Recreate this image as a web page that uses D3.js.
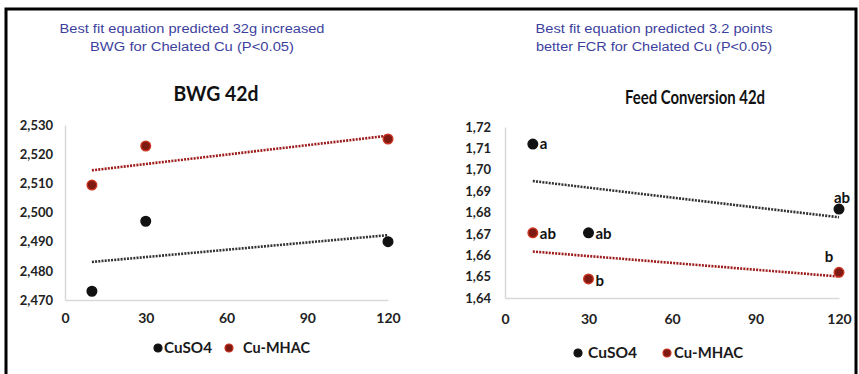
<!DOCTYPE html>
<html>
<head>
<meta charset="utf-8">
<script src="https://cdn.jsdelivr.net/npm/d3@7/dist/d3.min.js"></script>
<style>
  html, body { margin: 0; padding: 0; background: #fff; }
  svg { display: block; }
</style>
</head>
<body>
<svg id="chart" width="859" height="374"></svg>
<script>
// ---------- data ----------
const doses = [10, 30, 120];
const xTicks = [0, 30, 60, 90, 120];

const bwgCuSO4 = [2473, 2497, 2490];
const bwgMHAC = [2509.4, 2522.8, 2525.2];
const bwgTicks = [2470, 2480, 2490, 2500, 2510, 2520, 2530];

const fcrCuSO4 = [1.712, 1.6705, 1.6816];
const fcrMHAC = [1.6705, 1.6489, 1.652];
const fcrTicks = [1.64, 1.65, 1.66, 1.67, 1.68, 1.69, 1.70, 1.71, 1.72];
const fcrCuSO4Letters = ["a", "ab", "ab"];
const fcrMHACLetters = ["ab", "b", "b"];

const seriesNames = ["CuSO4", "Cu-MHAC"];
const titles = ["BWG 42d", "Feed Conversion 42d"];
const notesBWG = ["Best fit equation predicted 32g increased", "BWG for Chelated Cu (P<0.05)"];
const notesFCR = ["Best fit equation predicted 3.2 points", "better FCR for Chelated Cu (P<0.05)"];

// ---------- styles ----------
const colBlack = "#111111";
const colRedFill = "#7e1a12";
const colRedStroke = "#cc3420";
const colTrendRed = "#9e1c1c";
const colNote = "#3d3f9e";
const axisGray = "#d9d9d9";
const fontMain = "Lato, 'Open Sans', 'Liberation Sans', sans-serif";
const fontNote = "'Liberation Sans', Arial, sans-serif";

const svg = d3.select("#chart");
svg.append("rect").attr("width", 859).attr("height", 374).attr("fill", "#fff");

// frame
svg.append("path")
  .attr("d", d3.line()([[6, 374], [6, 9], [856, 9], [856, 374]]))
  .attr("fill", "none").attr("stroke", "#000").attr("stroke-width", 3);

function regression(xs, ys) {
  const mx = d3.mean(xs), my = d3.mean(ys);
  let sxy = 0, sxx = 0;
  xs.forEach((x, i) => { sxy += (x - mx) * (ys[i] - my); sxx += (x - mx) * (x - mx); });
  const b = sxy / sxx;
  return x => my + b * (x - mx);
}

function panel(cfg) {
  const g = svg.append("g");
  const x = d3.scaleLinear().domain([0, 120]).range(cfg.xRange);
  const y = d3.scaleLinear().domain(cfg.yDomain).range(cfg.yRange);

  // notes
  cfg.notes.forEach((t, i) => {
    g.append("text").attr("x", cfg.noteX).attr("y", 33 + i * 18)
      .attr("text-anchor", "middle").attr("font-family", fontNote)
      .attr("font-size", 12.5).attr("fill", colNote)
      .attr("textLength", cfg.noteLen[i]).attr("lengthAdjust", "spacingAndGlyphs")
      .text(t);
  });

  // title
  g.append("text").attr("x", cfg.titleX).attr("y", cfg.titleY)
    .attr("text-anchor", "middle").attr("font-family", fontMain)
    .attr("font-weight", "bold").attr("font-size", cfg.titleSize).attr("fill", "#111")
    .attr("textLength", cfg.titleLen).attr("lengthAdjust", "spacingAndGlyphs")
    .text(cfg.title);

  // axes
  const yAxis = d3.axisLeft(y).tickValues(cfg.yTicks).tickSize(0).tickPadding(cfg.yPad)
    .tickFormat(cfg.yFormat);
  const ya = g.append("g").attr("transform", `translate(${cfg.xRange[0]},0)`).call(yAxis);
  ya.select(".domain").attr("stroke", axisGray).attr("stroke-width", 1.5);
  ya.selectAll("text").attr("font-family", fontMain).attr("font-weight", "bold")
    .attr("font-size", 13).attr("fill", "#222");

  const xAxis = d3.axisBottom(x).tickValues(xTicks).tickSize(0).tickPadding(cfg.xPad);
  const xa = g.append("g").attr("transform", `translate(0,${cfg.yRange[0]})`).call(xAxis);
  xa.select(".domain").attr("stroke", axisGray).attr("stroke-width", 1.5);
  xa.selectAll("text").attr("font-family", fontMain).attr("font-weight", "bold")
    .attr("font-size", 14).attr("fill", "#222");

  // trend lines
  const series = [
    { vals: cfg.s1, fill: colBlack, stroke: colBlack, trend: "#333" },
    { vals: cfg.s2, fill: colRedFill, stroke: colRedStroke, trend: colTrendRed }
  ];
  series.forEach(s => {
    const f = regression(doses, s.vals);
    const x0 = d3.min(doses), x1 = d3.max(doses);
    g.append("path")
      .attr("d", d3.line().x(d => x(d)).y(d => y(f(d)))([x0, x1]))
      .attr("fill", "none").attr("stroke", s.trend).attr("stroke-width", 2.6)
      .attr("stroke-dasharray", "2,1.2");
  });

  // points
  series.forEach(s => {
    g.selectAll(null).data(doses).enter().append("circle")
      .attr("cx", d => x(d)).attr("cy", (d, i) => y(s.vals[i]))
      .attr("r", 4.8).attr("fill", s.fill).attr("stroke", s.stroke).attr("stroke-width", 1.4);
  });

  // letters
  if (cfg.letters) {
    cfg.letters.forEach(L => {
      L.labels.forEach((t, i) => {
        const p = L.place[i];
        g.append("text")
          .attr("x", x(doses[i]) + p[0]).attr("y", y(L.vals[i]) + p[1])
          .attr("text-anchor", p[2]).attr("font-family", fontMain)
          .attr("font-weight", "bold").attr("font-size", 15).attr("fill", "#111")
          .text(t);
      });
    });
  }

  // legend
  const lg = g.append("g");
  cfg.legend.forEach((l, i) => {
    lg.append("circle").attr("cx", l.cx).attr("cy", cfg.legendY).attr("r", 4)
      .attr("fill", i === 0 ? colBlack : colRedFill)
      .attr("stroke", i === 0 ? colBlack : colRedStroke).attr("stroke-width", 1.2);
    lg.append("text").attr("x", l.tx).attr("y", cfg.legendY + 5)
      .attr("font-family", fontMain).attr("font-weight", "bold").attr("font-size", 14.5)
      .attr("fill", "#1a1a1a")
      .attr("textLength", l.len).attr("lengthAdjust", "spacingAndGlyphs")
      .text(seriesNames[i]);
  });
}

const commaThousands = d => d3.format(",")(d);
const commaDecimal = d => d3.format(".2f")(d).replace(".", ",");

panel({
  xRange: [65, 388], yDomain: [2470, 2530], yRange: [300, 125],
  yTicks: bwgTicks, yFormat: commaThousands, yPad: 12, xPad: 13,
  s1: bwgCuSO4, s2: bwgMHAC,
  title: titles[0], titleX: 216, titleY: 101, titleSize: 20, titleLen: 85,
  notes: notesBWG, noteX: 192, noteLen: [265, 204],
  legendY: 348,
  legend: [{ cx: 158, tx: 164, len: 48 }, { cx: 229, tx: 243, len: 67 }]
});

panel({
  xRange: [505, 839], yDomain: [1.64, 1.72], yRange: [298, 127],
  yTicks: fcrTicks, yFormat: commaDecimal, yPad: 14, xPad: 16,
  s1: fcrCuSO4, s2: fcrMHAC,
  title: titles[1], titleX: 695, titleY: 104, titleSize: 18.5, titleLen: 140,
  notes: notesFCR, noteX: 654, noteLen: [237, 236],
  legendY: 353,
  legend: [{ cx: 578, tx: 588, len: 49 }, { cx: 667, tx: 674, len: 69 }],
  letters: [
    { vals: fcrCuSO4, labels: fcrCuSO4Letters,
      place: [[7, 5, "start"], [7, 6, "start"], [-5, -6, "start"]] },
    { vals: fcrMHAC, labels: fcrMHACLetters,
      place: [[7, 6, "start"], [7, 7, "start"], [-10, -10, "middle"]] }
  ]
});
</script>
</body>
</html>
